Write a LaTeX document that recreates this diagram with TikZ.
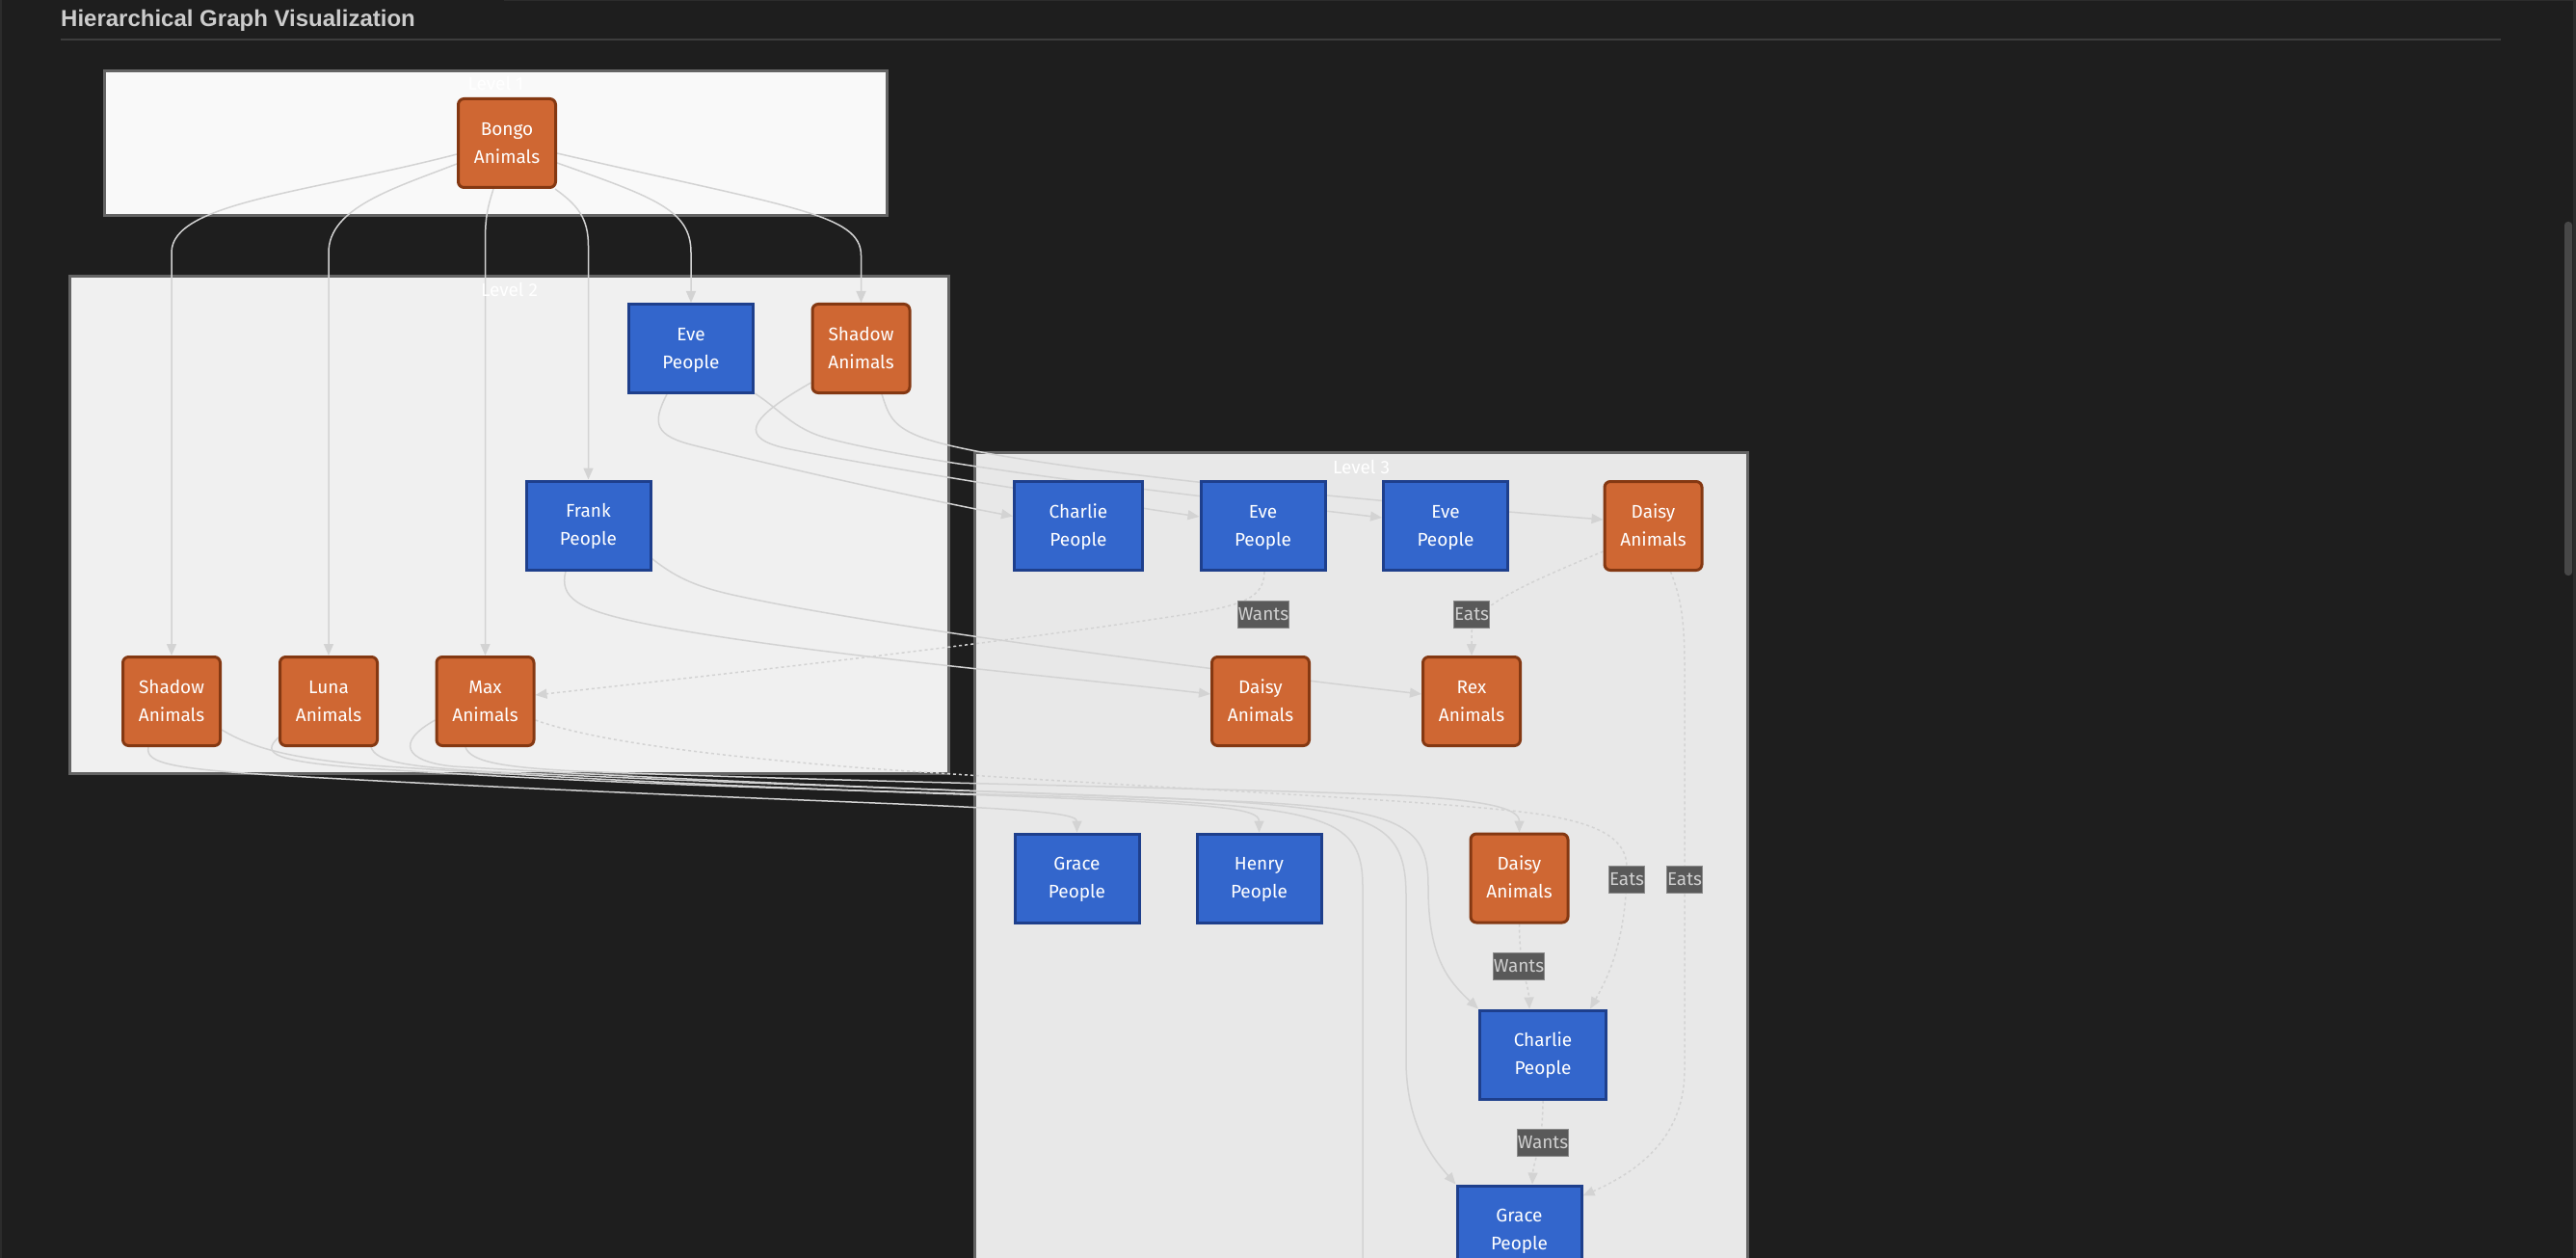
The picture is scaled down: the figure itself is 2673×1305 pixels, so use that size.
\documentclass[tikz,border=0pt]{standalone}
\usepackage{fontspec}
\setmainfont{Fira Sans}
\newfontfamily\headfont{Liberation Sans}
\usetikzlibrary{arrows.meta,calc}

\definecolor{bg}{HTML}{1E1E1E}
\definecolor{rulegray}{HTML}{3D3D3D}
\definecolor{titlegray}{HTML}{CCCCCC}
\definecolor{clusterline}{HTML}{646464}
\definecolor{lvlonefill}{HTML}{F9F9F9}
\definecolor{lvltwofill}{HTML}{F0F0F0}
\definecolor{lvlthreefill}{HTML}{E8E8E8}
\definecolor{peoplefill}{HTML}{3366CC}
\definecolor{peopleline}{HTML}{1E3F8C}
\definecolor{animalfill}{HTML}{CF6733}
\definecolor{animalline}{HTML}{843812}
\definecolor{edgegray}{HTML}{D3D3D3}
\definecolor{tagfill}{HTML}{595959}
\definecolor{tagline}{HTML}{8A8A8A}
\definecolor{tagtext}{HTML}{D0D0D0}
\definecolor{scrollgray}{HTML}{474747}
\definecolor{framegray}{HTML}{2C2C2C}

\pgfdeclarelayer{backdrop}
\pgfdeclarelayer{wires}
\pgfsetlayers{backdrop,wires,main}

\tikzset{
  people/.style={draw=peopleline, fill=peoplefill, line width=3pt,
    minimum width=129pt, minimum height=92pt, inner sep=0pt, align=center,
    text height=41.6pt, text depth=0pt,
    text=white, font=\fontsize{19}{29}\selectfont},
  animal/.style={people, draw=animalline, fill=animalfill,
    rounded corners=6pt, minimum width=101pt},
  cluster/.style={draw=clusterline, line width=3pt},
  lvltitle/.style={text=white, font=\fontsize{19}{23}\selectfont},
  link/.style={draw=edgegray, line width=1.5pt, -{Triangle[length=12pt,width=10pt]}},
  rel/.style={link, dash pattern=on 3pt off 3pt},
  tag/.style={fill=tagfill, draw=tagline, line width=0.8pt, text=tagtext,
    font=\fontsize{19}{23}\selectfont, inner xsep=0.5pt, inner ysep=0pt,
    minimum height=28pt},
}

\begin{document}
\begin{tikzpicture}[x=1pt,y=-1pt]
\useasboundingbox (0,0) rectangle (2673,1305);

% page, heading and scroll bar, clusters
\begin{pgfonlayer}{backdrop}
  \fill[bg] (0,0) rectangle (2673,1305);
  \fill[framegray] (0,0) rectangle (2,1305);
  \fill[framegray] (523,0) rectangle (2673,1);
  \fill[framegray] (2670,0) rectangle (2673,1305);
  \fill[scrollgray, rounded corners=3.5pt] (2661,230) rectangle (2669,597);
  \draw[rulegray, line width=1.5pt] (63,41) -- (2595,41);
  \filldraw[cluster, fill=lvlonefill] (108.5,73.5) rectangle (920.5,223.5);
  \filldraw[cluster, fill=lvltwofill] (72.5,286.5) rectangle (984.5,802.5);
  \filldraw[cluster, fill=lvlthreefill] (1011.5,469.5) rectangle (1813.5,1420);
\end{pgfonlayer}

\node[anchor=base west, text=titlegray, inner sep=0pt,
      font=\headfont\bfseries\fontsize{24}{28}\selectfont] (heading) at (63,28)
      {Hierarchical Graph Visualization};

\node[lvltitle] (lvlone)   at (514.5,86)  {Level 1};
\node[lvltitle] (lvltwo)   at (528.5,300) {Level 2};
\node[lvltitle] (lvlthree) at (1412.5,484) {Level 3};

% level 1
\node[animal] (bongo) at (526,148.5) {Bongo\\Animals};

% level 2
\node[people] (eveB)    at (717,361.5)   {Eve\\People};
\node[animal] (shadowA) at (893.5,361.5) {Shadow\\Animals};
\node[people] (frank)   at (610.5,545)   {Frank\\People};
\node[animal] (shadowB) at (178,727.5)   {Shadow\\Animals};
\node[animal] (luna)    at (341,727.5)   {Luna\\Animals};
\node[animal] (max)     at (503.5,727.5) {Max\\Animals};

% level 3
\node[people, minimum width=133pt] (charlieA) at (1119,545.5) {Charlie\\People};
\node[people] (eveC)   at (1310.5,545.5) {Eve\\People};
\node[people] (eveD)   at (1500,545.5)   {Eve\\People};
\node[animal] (daisyA) at (1715.5,545.5) {Daisy\\Animals};
\node[animal] (daisyB) at (1308,727.5)   {Daisy\\Animals};
\node[animal] (rex)    at (1527,727.5)   {Rex\\Animals};
\node[people] (graceA) at (1117.5,911)   {Grace\\People};
\node[people] (henry)  at (1306.5,911)   {Henry\\People};
\node[animal] (daisyC) at (1576.5,911)   {Daisy\\Animals};
\node[people, minimum width=131pt] (charlieB) at (1601,1094) {Charlie\\People};
\node[people] (graceB) at (1576.5,1276)  {Grace\\People};
\coordinate (offdown) at (1414,1340);

% relation labels
\node[tag] (tagWa) at (1311,637)  {Wants};
\node[tag] (tagEa) at (1527,637)  {Eats};
\node[tag] (tagEb) at (1688,912)  {Eats};
\node[tag] (tagEc) at (1748,912)  {Eats};
\node[tag] (tagWb) at (1576,1002) {Wants};
\node[tag] (tagWc) at (1601,1185) {Wants};

\begin{pgfonlayer}{wires}
  % from the root
  \draw[link] ($(bongo.west)+(0,11.5)$) .. controls (320,200) and (178,210) .. (178,262) -- (shadowB.north);
  \draw[link] ($(bongo.west)+(0,21.5)$) .. controls (410,195) and (341,215) .. (341,262) -- (luna.north);
  \draw[link] ($(bongo.south)+(-14,0)$) .. controls (506,215) and (503.5,225) .. (503.5,250) -- (max.north);
  \draw[link] ($(bongo.south east)+(-2,0)$) .. controls (598,212) and (610.5,225) .. (610.5,255) -- (frank.north);
  \draw[link] ($(bongo.east)+(0,20.5)$) .. controls (680,205) and (717,218) .. (717,262) -- (eveB.north);
  \draw[link] ($(bongo.east)+(0,10.5)$) .. controls (820,215) and (893.5,222) .. (893.5,265) -- (shadowA.north);

  % level 2 to level 3, upper rows
  \draw[link] ($(eveB.south)+(-25,0)$) .. controls (676,440) and (680,452) .. (720,462)
      .. controls (850,494.5) and (990,524) .. ($(charlieA.west)+(0,-10)$);
  \draw[link] ($(shadowA.south west)+(0,-12)$) .. controls (775,435) and (765,455) .. (820,466)
      .. controls (930,488) and (1150,522) .. ($(eveC.west)+(0,-9.5)$);
  \draw[link] ($(eveB.south east)+(0,-1)$) .. controls (810,425) and (822,445) .. (860,455)
      .. controls (974,485) and (1250,515) .. ($(eveD.west)+(0,-8.5)$);
  \draw[link] ($(shadowA.south)+(21.5,0)$) .. controls (922,430) and (925,443) .. (960,455)
      .. controls (1054,487) and (1450,522) .. ($(daisyA.west)+(0,-6.5)$);
  \draw[link] ($(frank.south east)+(0,-13)$) .. controls (700,598) and (720,608) .. (760,617)
      .. controls (900,648) and (1200,688) .. ($(rex.west)+(0,-7.5)$);
  \draw[link] ($(frank.south)+(-23.5,0)$) .. controls (580,620) and (600,632) .. (660,645)
      .. controls (800,675) and (1100,702) .. ($(daisyB.west)+(0,-7.5)$);

  % level 2 bottom row to level 3, lower rows
  \draw[link] ($(shadowB.south)+(-24,0)$) .. controls (150,792) and (180,798) .. (300,805)
      .. controls (600,822) and (900,832) .. (1000,837)
      .. controls (1080,841) and (1117.5,845) .. (graceA.north);
  \draw[link] ($(shadowB.east)+(0,29.5)$) .. controls (260,775) and (300,788) .. (400,795)
      .. controls (700,815) and (950,822) .. (1050,826)
      .. controls (1260,834) and (1306.5,838) .. (henry.north);
  \draw[link] ($(luna.west)+(0,37.5)$) .. controls (270,782) and (285,790) .. (380,797)
      .. controls (700,818) and (1000,822) .. (1150,828)
      .. controls (1380,838) and (1414,850) .. (1414,920) -- (offdown);
  \draw[link] ($(luna.south)+(44,0)$) .. controls (390,790) and (420,795) .. (500,800)
      .. controls (800,815) and (1100,822) .. (1250,830)
      .. controls (1430,840) and (1459,855) .. (1459,930) -- (1459,1100)
      .. controls (1459,1170) and (1490,1205) .. (graceB.north west);
  \draw[link] ($(max.west)+(0,19.5)$) .. controls (410,770) and (420,790) .. (470,795)
      .. controls (800,815) and (1150,825) .. (1300,832)
      .. controls (1460,840) and (1482,860) .. (1482,920)
      .. controls (1482,990) and (1500,1015) .. (charlieB.north west);
  \draw[link] ($(max.south)+(-20.5,0)$) .. controls (488,790) and (520,796) .. (600,800)
      .. controls (900,812) and (1300,818) .. (1450,825)
      .. controls (1540,830) and (1576.5,838) .. (daisyC.north);

  % labelled relations
  \draw[rel] ($(eveC.south)+(1.5,0)$) .. controls (1312,625) and (1280,630) .. (1200,642)
      .. controls (1000,672) and (700,705) .. ($(max.east)+(0,-6.5)$);
  \draw[rel] ($(daisyA.south west)+(0,-21)$) .. controls (1585,605) and (1530,628) .. (1527,655) -- (rex.north);
  \draw[rel] ($(max.east)+(0,19.5)$) .. controls (620,770) and (750,785) .. (900,797)
      .. controls (1200,818) and (1500,830) .. (1600,845)
      .. controls (1660,855) and (1688,870) .. (1688,900)
      .. controls (1688,980) and (1665,1020) .. ($(charlieB.north)+(49,0)$);
  \draw[rel] ($(daisyA.south)+(18,0)$) .. controls (1742,615) and (1748,635) .. (1748,690) -- (1748,1110)
      .. controls (1748,1180) and (1700,1215) .. ($(graceB.north east)+(0,12)$);
  \draw[rel] (daisyC.south) .. controls (1577,1010) and (1586,1020) .. ($(charlieB.north)+(-14,0)$);
  \draw[rel] (charlieB.south) .. controls (1601,1190) and (1591,1205) .. ($(graceB.north)+(13.5,0)$);
\end{pgfonlayer}
\end{tikzpicture}
\end{document}
